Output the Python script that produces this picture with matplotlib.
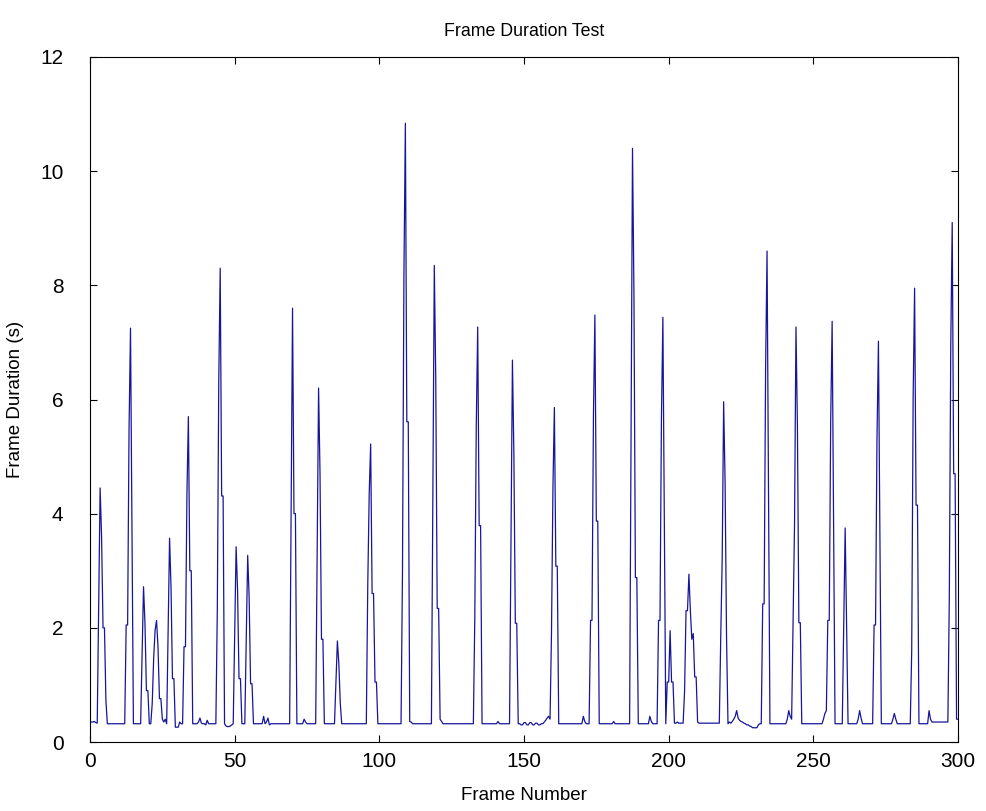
import matplotlib
matplotlib.use("Agg")
import matplotlib.pyplot as plt
import numpy as np

# Frame durations (s), read every half frame (x = 0.5, 1.0, ..., 300.0)
dur_000_025 = [0.35, 0.35, 0.36, 0.34, 0.33, 2.35, 4.45, 3.6, 2.0, 2.0,
               0.72, 0.32, 0.32, 0.32, 0.32, 0.32, 0.32, 0.32, 0.32, 0.32,
               0.32, 0.32, 0.32, 0.32, 2.05, 2.05, 5.5, 7.25, 3.75, 0.32,
               0.32, 0.32, 0.32, 0.32, 0.32, 1.5, 2.72, 2.08, 0.9, 0.9,
               0.32, 0.32, 0.67, 1.46, 1.96, 2.13, 1.67, 0.76, 0.76, 0.4]
dur_025_050 = [0.35, 0.4, 0.32, 1.9, 3.57, 2.72, 1.11, 1.11, 0.26, 0.26,
               0.26, 0.35, 0.32, 0.32, 1.67, 1.67, 4.33, 5.7, 3.0, 3.0,
               0.32, 0.32, 0.32, 0.32, 0.35, 0.42, 0.33, 0.32, 0.32, 0.3,
               0.38, 0.32, 0.32, 0.32, 0.32, 0.32, 0.32, 2.31, 6.3, 8.3,
               4.31, 4.31, 0.32, 0.28, 0.27, 0.27, 0.28, 0.3, 0.32, 1.9]
dur_050_075 = [3.42, 2.66, 1.11, 1.11, 0.32, 0.32, 0.32, 1.81, 3.27, 2.54,
               1.02, 1.02, 0.32, 0.32, 0.32, 0.32, 0.32, 0.32, 0.32, 0.45,
               0.32, 0.35, 0.42, 0.3, 0.32, 0.32, 0.32, 0.32, 0.32, 0.32,
               0.32, 0.32, 0.32, 0.32, 0.32, 0.32, 0.32, 0.32, 4.0, 7.6,
               4.0, 4.0, 0.32, 0.32, 0.32, 0.32, 0.32, 0.4, 0.35, 0.32]
dur_075_100 = [0.32, 0.32, 0.32, 0.32, 0.32, 0.32, 3.25, 6.2, 4.7, 1.8,
               1.8, 0.32, 0.32, 0.32, 0.32, 0.32, 0.32, 0.32, 0.32, 1.04,
               1.77, 1.38, 0.68, 0.32, 0.32, 0.32, 0.32, 0.32, 0.32, 0.32,
               0.32, 0.32, 0.32, 0.32, 0.32, 0.32, 0.32, 0.32, 0.32, 0.32,
               0.32, 2.75, 4.35, 5.22, 2.6, 2.6, 1.05, 1.05, 0.32, 0.32]
dur_100_125 = [0.32, 0.32, 0.32, 0.32, 0.32, 0.32, 0.32, 0.32, 0.32, 0.32,
               0.32, 0.32, 0.32, 0.32, 0.32, 2.98, 8.18, 10.84, 5.61, 5.61,
               0.36, 0.35, 0.32, 0.32, 0.32, 0.32, 0.32, 0.32, 0.32, 0.32,
               0.32, 0.32, 0.32, 0.32, 0.32, 0.32, 4.35, 8.35, 6.36, 2.34,
               2.34, 0.4, 0.36, 0.32, 0.32, 0.32, 0.32, 0.32, 0.32, 0.32]
dur_125_150 = [0.32, 0.32, 0.32, 0.32, 0.32, 0.32, 0.32, 0.32, 0.32, 0.32,
               0.32, 0.32, 0.32, 0.32, 0.32, 2.2, 5.53, 7.27, 3.79, 3.79,
               0.32, 0.32, 0.32, 0.32, 0.32, 0.32, 0.32, 0.32, 0.32, 0.32,
               0.32, 0.36, 0.32, 0.32, 0.32, 0.32, 0.32, 0.32, 0.32, 0.32,
               3.46, 6.69, 5.06, 2.08, 2.08, 0.32, 0.32, 0.3, 0.3, 0.34]
dur_150_175 = [0.34, 0.3, 0.3, 0.34, 0.34, 0.3, 0.3, 0.33, 0.33, 0.3,
               0.3, 0.32, 0.32, 0.35, 0.38, 0.42, 0.45, 0.4, 1.9, 4.45,
               5.86, 3.08, 3.08, 0.32, 0.32, 0.32, 0.32, 0.32, 0.32, 0.32,
               0.32, 0.32, 0.32, 0.32, 0.32, 0.32, 0.32, 0.32, 0.32, 0.32,
               0.45, 0.36, 0.32, 0.32, 0.32, 2.13, 2.13, 5.7, 7.48, 3.87]
dur_175_200 = [3.87, 0.32, 0.32, 0.32, 0.32, 0.32, 0.32, 0.32, 0.32, 0.32,
               0.32, 0.36, 0.32, 0.32, 0.32, 0.32, 0.32, 0.32, 0.32, 0.32,
               0.32, 0.32, 0.32, 5.36, 10.4, 7.87, 2.88, 2.88, 0.32, 0.32,
               0.32, 0.32, 0.32, 0.32, 0.32, 0.32, 0.45, 0.36, 0.32, 0.32,
               0.32, 0.32, 2.13, 2.13, 5.66, 7.44, 3.89, 0.32, 1.05, 1.05]
dur_200_225 = [1.95, 1.05, 1.05, 0.33, 0.33, 0.35, 0.33, 0.33, 0.33, 0.33,
               0.89, 2.3, 2.3, 2.94, 2.3, 1.8, 1.9, 1.14, 1.14, 0.35,
               0.33, 0.33, 0.33, 0.33, 0.33, 0.33, 0.33, 0.33, 0.33, 0.33,
               0.33, 0.33, 0.33, 0.33, 0.33, 1.84, 3.21, 5.96, 4.56, 1.84,
               0.32, 0.35, 0.33, 0.36, 0.4, 0.45, 0.55, 0.42, 0.38, 0.36]
dur_225_250 = [0.35, 0.33, 0.32, 0.3, 0.3, 0.28, 0.27, 0.25, 0.25, 0.25,
               0.25, 0.3, 0.32, 0.32, 2.42, 2.42, 6.53, 8.6, 4.49, 0.32,
               0.32, 0.32, 0.32, 0.32, 0.32, 0.32, 0.32, 0.32, 0.32, 0.32,
               0.32, 0.4, 0.55, 0.45, 0.4, 2.09, 3.81, 7.27, 5.53, 2.09,
               2.09, 0.32, 0.32, 0.32, 0.32, 0.32, 0.32, 0.32, 0.32, 0.32]
dur_250_275 = [0.32, 0.32, 0.32, 0.32, 0.32, 0.32, 0.4, 0.5, 0.55, 2.13,
               2.13, 5.63, 7.37, 3.86, 0.32, 0.32, 0.32, 0.32, 0.32, 0.32,
               2.05, 3.75, 2.05, 0.32, 0.32, 0.32, 0.32, 0.32, 0.32, 0.32,
               0.4, 0.55, 0.42, 0.32, 0.32, 0.32, 0.32, 0.32, 0.32, 0.32,
               0.32, 2.05, 2.05, 5.32, 7.02, 3.66, 0.32, 0.32, 0.32, 0.32]
dur_275_300 = [0.32, 0.32, 0.32, 0.32, 0.4, 0.5, 0.4, 0.32, 0.32, 0.32,
               0.32, 0.32, 0.32, 0.32, 0.32, 0.32, 0.32, 1.6, 6.05, 7.95,
               4.15, 4.15, 0.32, 0.32, 0.32, 0.32, 0.32, 0.32, 0.32, 0.55,
               0.4, 0.35, 0.35, 0.35, 0.35, 0.35, 0.35, 0.35, 0.35, 0.35,
               0.35, 0.35, 0.35, 2.55, 6.95, 9.1, 4.7, 4.7, 0.4, 0.4]

frame_duration = (dur_000_025 + dur_025_050 + dur_050_075 + dur_075_100 +
                  dur_100_125 + dur_125_150 + dur_150_175 + dur_175_200 +
                  dur_200_225 + dur_225_250 + dur_250_275 + dur_275_300)
sample_step = 0.5
frame_number = np.arange(1, len(frame_duration) + 1) * sample_step

x_ticks = [0, 50, 100, 150, 200, 250, 300]
y_ticks = [0, 2, 4, 6, 8, 10, 12]

plt.rcParams['font.family'] = ['Liberation Sans', 'DejaVu Sans']

W, H = 987, 811
L, R, T, B = 90, 958, 57, 742
fig = plt.figure(figsize=(W / 100, H / 100), dpi=100)
ax = fig.add_axes([L / W, (H - B) / H, (R - L) / W, (B - T) / H])

ax.plot(frame_number, frame_duration, color='#16169a', linewidth=0.9)

ax.set_xlim(0, 300)
ax.set_ylim(0, 12)
ax.set_xticks(x_ticks)
ax.set_yticks(y_ticks)
ax.tick_params(direction='in', length=5, width=0.8, top=True, right=True,
               labelsize=15, colors='black')
ax.tick_params(axis='x', pad=7)
ax.tick_params(axis='y', pad=19)
for s in ax.spines.values():
    s.set_linewidth(0.8)
    s.set_color('black')

fig.text((L + R) / 2 / W, 1 - 32 / H, 'Frame Duration Test', fontsize=12.8,
         ha='center', va='center')
ax.set_xlabel('Frame Number', fontsize=13.5)
ax.xaxis.set_label_coords(0.5, -(795 - B) / (B - T))
ax.xaxis.label.set_va('center')
ax.set_ylabel('Frame Duration (s)', fontsize=13.5)
ax.yaxis.set_label_coords(-(L - 16) / (R - L), 0.5)
ax.yaxis.label.set_va('center')

fig.savefig('out.png', dpi=100)
